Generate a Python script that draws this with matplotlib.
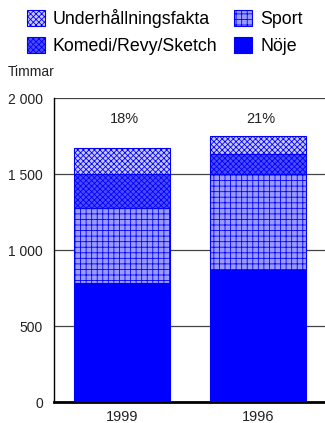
import matplotlib
matplotlib.use("Agg")
import matplotlib.pyplot as plt
from matplotlib.patches import Patch
import numpy as np

plt.rcParams['font.family'] = ['Liberation Sans', 'DejaVu Sans']
plt.rcParams['hatch.linewidth'] = 0.6

years = ["1999", "1996"]
noje = [783, 868]
sport = [491, 632]
komedi = [226, 132]
underh = [169, 118]
pct_labels = ["18%", "21%"]
yticks = [0, 500, 1000, 1500, 2000]
ytick_labels = ["0", "500", "1 000", "1 500", "2 000"]

series = [
    ("Nöje", noje, dict(facecolor="#0000ff", hatch=None)),
    ("Sport", sport, dict(facecolor="#9a9aff", hatch="+++")),
    ("Komedi/Revy/Sketch", komedi, dict(facecolor="#4c4cff", hatch="xxxxxx")),
    ("Underhållningsfakta", underh, dict(facecolor="#c8c8ff", hatch="xxxxxx")),
]

fig = plt.figure(figsize=(3.25, 4.23), dpi=100)
ax = fig.add_axes([54/325, 21/423, 1 - 54/325, (402-98)/423])

x = np.arange(len(years))
bottom = np.zeros(len(years))
handles = {}
for name, vals, st in series:
    ax.bar(x, vals, 0.706, bottom=bottom, facecolor=st["facecolor"],
           edgecolor="#0000ff", hatch=st["hatch"], linewidth=0.8, zorder=3)
    handles[name] = Patch(facecolor=st["facecolor"], edgecolor="#0000ff",
                          hatch=st["hatch"], linewidth=0.8)
    bottom = bottom + np.array(vals)

for xi, lab in zip(x, pct_labels):
    ax.text(xi + 0.02, 1862, lab, ha="center", va="center", fontsize=10.5, color="#222222")

ax.set_xlim(-0.5, -0.5 + 271/136)
ax.set_ylim(0, 2000)
ax.set_yticks(yticks)
ax.set_yticklabels(ytick_labels, fontsize=10, color="#222222")
ax.set_xticks(x)
ax.set_xticklabels(years, fontsize=10.5, color="#222222")
ax.tick_params(axis="y", length=0, pad=8)
ax.tick_params(axis="x", length=0, pad=6)
ax.yaxis.grid(True, color="#444444", linewidth=0.9, zorder=0)
ax.set_axisbelow(True)
for s in ["top", "right"]:
    ax.spines[s].set_visible(False)
ax.spines["left"].set_linewidth(1.0)
ax.spines["bottom"].set_linewidth(2.0)

fig.text(8/325, 1 - 72/423, "Timmar", fontsize=10, va="center", ha="left", color="#222222")

order = ["Underhållningsfakta", "Komedi/Revy/Sketch", "Sport", "Nöje"]
fig.legend([handles[n] for n in order], order, ncol=2, loc="upper left",
           bbox_to_anchor=(27/325, 1 - 9/423), frameon=False, fontsize=12.8,
           handlelength=1.0, handleheight=1.0, handletextpad=0.45,
           columnspacing=0.96, labelspacing=0.5, borderaxespad=0, borderpad=0)

fig.savefig("out.png", dpi=100)
